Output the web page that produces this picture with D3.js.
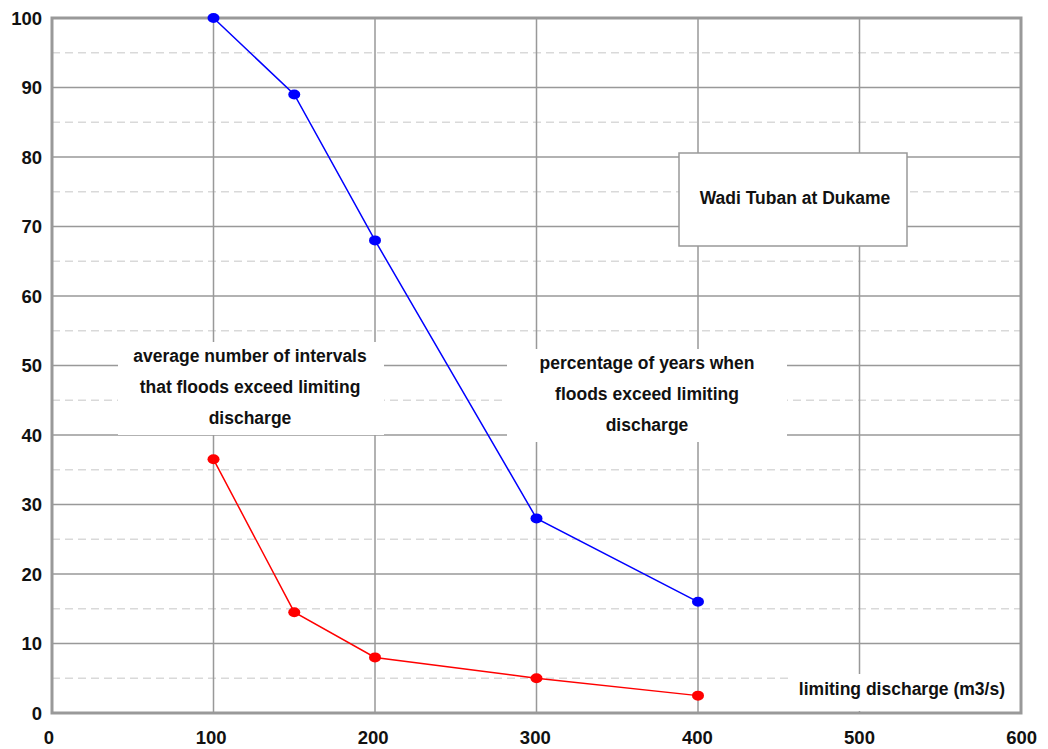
<!DOCTYPE html>
<html><head><meta charset="utf-8">
<script src="https://cdn.jsdelivr.net/npm/d3@7"></script>
<style>body{margin:0;background:#fff}svg{display:block}text{font-family:Arial,"Liberation Sans",sans-serif;font-weight:bold;fill:#111}</style>
</head><body><svg id="c" width="1048" height="749"></svg>
<script>
const discharge = [100, 150, 200, 300, 400];
const percentYears = [100, 89, 68, 28, 16];
const avgIntervals = [36.5, 14.5, 8, 5, 2.5];
const xTicks = [0, 100, 200, 300, 400, 500, 600];
const yTicks = [0, 10, 20, 30, 40, 50, 60, 70, 80, 90, 100];
const yMinor = [5, 15, 25, 35, 45, 55, 65, 75, 85, 95];
const titleText = "Wadi Tuban at Dukame";
const xTitle = "limiting discharge (m3/s)";
const labelIntervals = ["average number of intervals", "that floods exceed limiting", "discharge"];
const labelYears = ["percentage of years when", "floods exceed limiting", "discharge"];

const svg = d3.select("#c");
const L = 52, R = 1021, T = 18, B = 713;
const x = d3.scaleLinear().domain([0, 600]).range([L, R]);
const y = d3.scaleLinear().domain([0, 100]).range([B, T]);
const FS = 17.5;

// minor dashed gridlines
svg.append("g").selectAll("line").data(yMinor).join("line")
  .attr("x1", L).attr("x2", R).attr("y1", d => y(d)).attr("y2", d => y(d))
  .attr("stroke", "#d9d9d9").attr("stroke-width", 1.5).attr("stroke-dasharray", "8,5");
// major gridlines
svg.append("g").selectAll("line").data(yTicks.slice(1, -1)).join("line")
  .attr("x1", L).attr("x2", R).attr("y1", d => y(d)).attr("y2", d => y(d))
  .attr("stroke", "#999").attr("stroke-width", 1.5);
svg.append("g").selectAll("line").data(xTicks.slice(1, -1)).join("line")
  .attr("y1", T).attr("y2", B).attr("x1", d => x(d)).attr("x2", d => x(d))
  .attr("stroke", "#999").attr("stroke-width", 1.5);

// white label boxes covering grid
function wbox(x0, y0, x1, y1) {
  svg.append("rect").attr("x", x0).attr("y", y0).attr("width", x1 - x0).attr("height", y1 - y0).attr("fill", "#fff");
}
wbox(118, 342, 384, 435);
wbox(507, 349, 787, 442);
wbox(788, 674, 1020, 711);

// frame
svg.append("rect").attr("x", L).attr("y", T).attr("width", R - L).attr("height", B - T)
  .attr("fill", "none").attr("stroke", "#999").attr("stroke-width", 3);

// title box
svg.append("rect").attr("x", 679).attr("y", 153).attr("width", 228).attr("height", 93)
  .attr("fill", "#fff").attr("stroke", "#999").attr("stroke-width", 1.5);
svg.append("text").attr("x", 795).attr("y", 204).attr("text-anchor", "middle").attr("font-size", FS).text(titleText);

// annotations
labelIntervals.forEach((t, i) => svg.append("text").attr("x", 250).attr("y", 362 + i * 31)
  .attr("text-anchor", "middle").attr("font-size", FS).text(t));
labelYears.forEach((t, i) => svg.append("text").attr("x", 647).attr("y", 369 + i * 31)
  .attr("text-anchor", "middle").attr("font-size", FS).text(t));
svg.append("text").attr("x", 1005).attr("y", 695).attr("text-anchor", "end").attr("font-size", FS).text(xTitle);

// axes labels
svg.append("g").selectAll("text").data(yTicks).join("text")
  .attr("x", 42).attr("y", d => y(d) + 6.5).attr("text-anchor", "end").attr("font-size", 18.5).text(d => d);
svg.append("g").selectAll("text").data(xTicks).join("text")
  .attr("x", d => x(d) - 3 + d * 0.006).attr("y", 744).attr("text-anchor", "middle").attr("font-size", 18.5).text(d => d);

// series
function series(vals, color) {
  const pts = discharge.map((d, i) => [d, vals[i]]);
  svg.append("path").datum(pts).attr("fill", "none").attr("stroke", color).attr("stroke-width", 1.5)
    .attr("d", d3.line().x(d => x(d[0])).y(d => y(d[1])));
  svg.append("g").selectAll("ellipse").data(pts).join("ellipse")
    .attr("cx", d => x(d[0])).attr("cy", d => y(d[1])).attr("rx", 6).attr("ry", 5).attr("fill", color);
}
series(percentYears, "#0000ff");
series(avgIntervals, "#ff0000");
</script></body></html>
